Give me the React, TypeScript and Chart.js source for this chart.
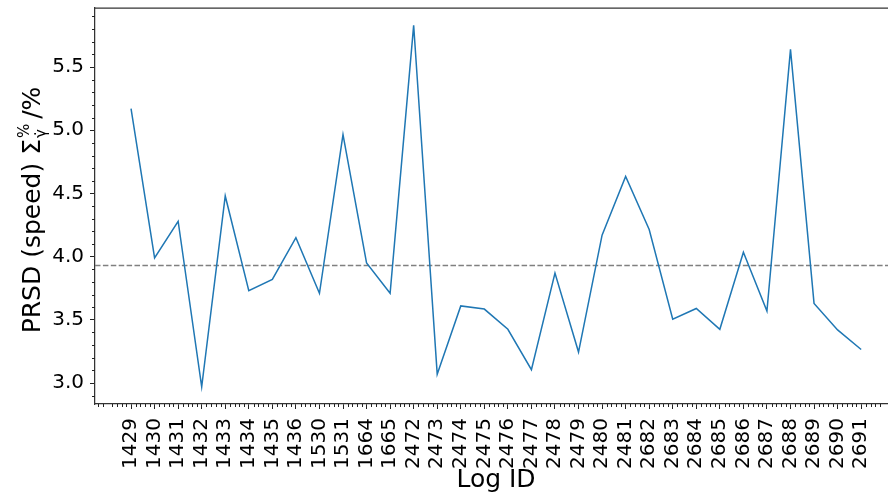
import React, { useEffect, useRef } from "react";
import { Chart, registerables } from "chart.js";

Chart.register(...registerables);

const categories = [
  "1429", "1430", "1431", "1432", "1433", "1434", "1435", "1436",
  "1530", "1531", "1664", "1665", "2472", "2473", "2474", "2475",
  "2476", "2477", "2478", "2479", "2480", "2481", "2682", "2683",
  "2684", "2685", "2686", "2687", "2688", "2689", "2690", "2691",
];

const prsdValues = [
  5.17, 3.99, 4.28, 2.97, 4.48, 3.73, 3.82, 4.15,
  3.71, 4.965, 3.95, 3.71, 5.83, 3.07, 3.61, 3.585,
  3.425, 3.105, 3.87, 3.245, 4.17, 4.635, 4.215, 3.505,
  3.59, 3.425, 4.035, 3.57, 5.64, 3.63, 3.42, 3.265,
];

const meanValue = 3.93;
const yTickValues = [3.0, 3.5, 4.0, 4.5, 5.0, 5.5];

const FONT = "'DejaVu Sans', sans-serif";
const SPINE = "#333333";

export default function App() {
  const ref = useRef<HTMLCanvasElement | null>(null);

  useEffect(() => {
    const canvas = ref.current;
    if (!canvas) return;
    const xMin = -1.53;
    const xMax = 32.14;
    const yMin = 2.834;
    const yMax = 5.967;

    const overlay = {
      id: "overlay",
      afterDraw(chart: any) {
        const { ctx, chartArea } = chart;
        const xs = chart.scales.x;
        const ys = chart.scales.y;
        ctx.save();
        // top spine
        ctx.strokeStyle = SPINE;
        ctx.lineWidth = 1.25;
        ctx.beginPath();
        ctx.moveTo(chartArea.left, chartArea.top);
        ctx.lineTo(chartArea.right, chartArea.top);
        ctx.stroke();
        // minor ticks
        ctx.lineWidth = 1;
        ctx.strokeStyle = "#222";
        ctx.beginPath();
        for (let k = Math.ceil(xMin / 0.2); k * 0.2 <= xMax; k++) {
          if (k % 5 === 0) continue;
          const px = Math.round(xs.getPixelForValue(k * 0.2)) + 0.5;
          ctx.moveTo(px, chartArea.bottom);
          ctx.lineTo(px, chartArea.bottom + 3);
        }
        for (let k = Math.ceil(yMin / 0.1); k * 0.1 <= yMax; k++) {
          if (k % 5 === 0) continue;
          const py = Math.round(ys.getPixelForValue(k * 0.1)) + 0.5;
          ctx.moveTo(chartArea.left, py);
          ctx.lineTo(chartArea.left - 3, py);
        }
        ctx.stroke();

        // x title
        ctx.fillStyle = "#000";
        ctx.font = `25px ${FONT}`;
        ctx.textAlign = "center";
        ctx.textBaseline = "middle";
        ctx.fillText("Log ID", 496, 480);

        // y title with super/subscript
        const big = `25px ${FONT}`;
        const small = `15px ${FONT}`;
        const part1 = "PRSD (speed) Σ";
        const part3 = "/%";
        ctx.font = big;
        const w1 = ctx.measureText(part1).width;
        const w3 = ctx.measureText(part3).width;
        ctx.font = small;
        const wsup = ctx.measureText("%").width;
        const wsub = ctx.measureText("γ̇").width;
        const wmid = Math.max(wsup, wsub) + 6;
        const total = w1 + wmid + w3;
        ctx.translate(31, 210);
        ctx.rotate(-Math.PI / 2);
        ctx.textAlign = "left";
        ctx.textBaseline = "alphabetic";
        let x0 = -total / 2;
        const base = 9;
        ctx.font = big;
        ctx.fillText(part1, x0, base);
        x0 += w1 + 1;
        ctx.font = small;
        ctx.fillText("%", x0, base - 11);
        ctx.fillText("γ̇", x0, base + 6);
        x0 += wmid - 1;
        ctx.font = big;
        ctx.fillText(part3, x0, base);
        ctx.restore();
      },
    };

    const chart = new Chart(canvas, {
      type: "line",
      data: {
        datasets: [
          {
            data: prsdValues.map((v, i) => ({ x: i, y: v })),
            borderColor: "#1f77b4",
            borderWidth: 1.5,
            pointRadius: 0,
            tension: 0,
          },
          {
            data: [
              { x: xMin, y: meanValue },
              { x: xMax, y: meanValue },
            ],
            borderColor: "#808080",
            borderWidth: 1.5,
            borderDash: [5.5, 2.4],
            pointRadius: 0,
          },
        ],
      },
      options: {
        animation: false,
        responsive: false,
        devicePixelRatio: 1,
        layout: { padding: { top: 8, left: 0, right: 0, bottom: 0 } },
        plugins: {
          legend: { display: false },
          tooltip: { enabled: false },
          title: { display: false },
        },
        scales: {
          x: {
            type: "linear",
            min: xMin,
            max: xMax,
            afterFit: (s: any) => {
              s.height = 91;
              s.paddingLeft = 0;
              s.paddingRight = 0;
            },
            afterBuildTicks: (s: any) => {
              s.ticks = categories.map((_, i) => ({ value: i }));
            },
            grid: {
              display: true,
              drawOnChartArea: false,
              drawTicks: true,
              tickLength: 5,
              color: "#222",
              lineWidth: 1,
            },
            border: { display: true, color: SPINE, width: 1.25 },
            ticks: {
              autoSkip: false,
              maxRotation: 90,
              minRotation: 90,
              padding: 9,
              color: "#000",
              font: { family: FONT, size: 20 },
              callback: (v: any) => categories[Math.round(Number(v))] ?? "",
            },
          },
          y: {
            type: "linear",
            min: yMin,
            max: yMax,
            afterFit: (s: any) => {
              s.width = 95;
              s.paddingTop = 0;
              s.paddingBottom = 0;
            },
            afterBuildTicks: (s: any) => {
              s.ticks = yTickValues.map((v) => ({ value: v }));
            },
            grid: {
              display: true,
              drawOnChartArea: false,
              drawTicks: true,
              tickLength: 5,
              color: "#222",
              lineWidth: 1,
            },
            border: { display: true, color: SPINE, width: 1.25 },
            ticks: {
              padding: 6,
              color: "#000",
              font: { family: FONT, size: 20 },
              callback: (v: any) => Number(v).toFixed(1),
            },
          },
        },
      },
      plugins: [overlay],
    });
    return () => chart.destroy();
  }, []);

  return (
    <div
      style={{
        position: "fixed",
        left: 0,
        top: 0,
        width: 888,
        height: 495,
        background: "#fff",
        overflow: "hidden",
      }}
    >
      <canvas ref={ref} width={888} height={495} style={{ display: "block" }} />
    </div>
  );
}
